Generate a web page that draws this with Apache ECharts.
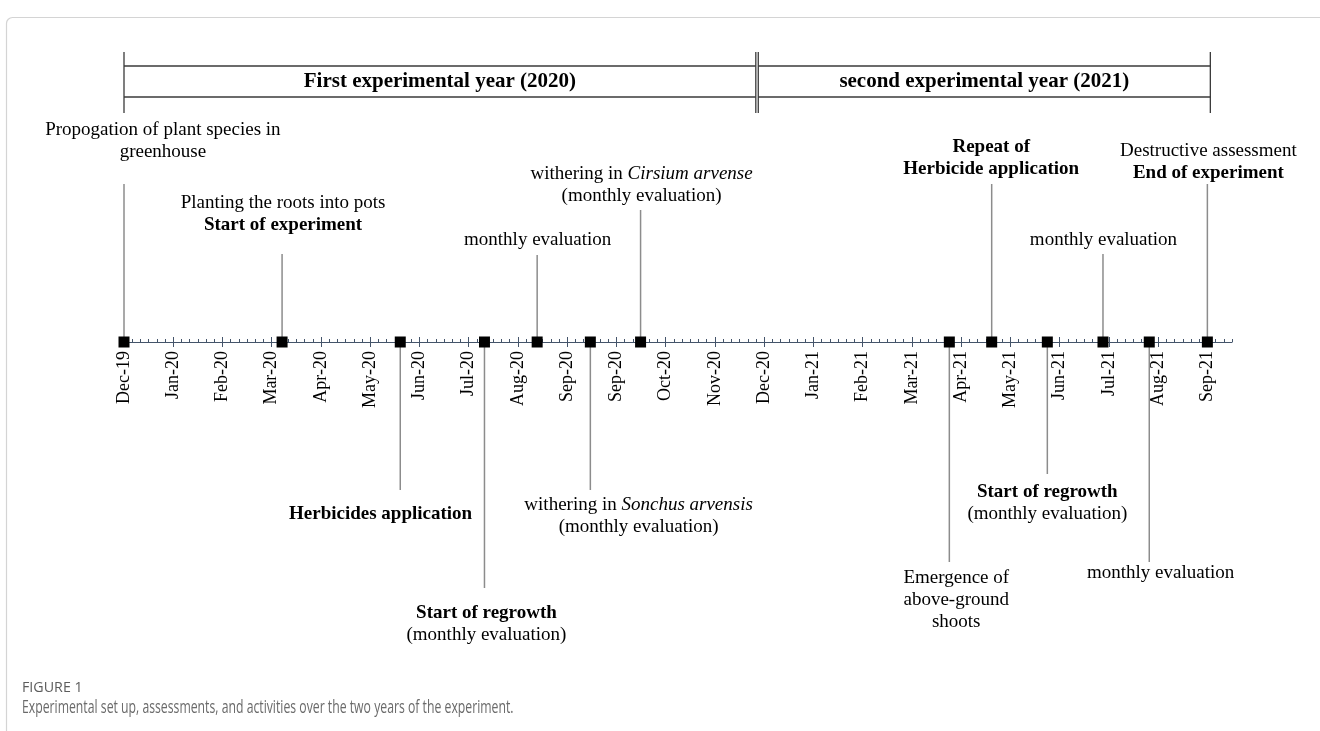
<!DOCTYPE html>
<html>
<head>
<meta charset="utf-8">
<script src="https://cdn.jsdelivr.net/npm/echarts@6/dist/echarts.min.js"></script>
<style>html,body{margin:0;padding:0;background:#fff}#c{width:1320px;height:731px}</style>
</head>
<body>
<div id="c"></div>
<script>
// ---- data ----
const monthLabels = ['Dec-19','Jan-20','Feb-20','Mar-20','Apr-20','May-20','Jun-20','Jul-20','Aug-20','Sep-20','Sep-20','Oct-20','Nov-20','Dec-20','Jan-21','Feb-21','Mar-21','Apr-21','May-21','Jun-21','Jul-21','Aug-21','Sep-21'];
const eventMonth = [0, 3.21, 5.61, 7.32, 8.39, 9.47, 10.49, 16.76, 17.62, 18.75, 19.88, 20.82, 22.0];
const leaderEnd  = [158, 88, -148, -246, 87, -148, 132, -220, 158, -132, 88, -220, 158];
const labelMonth = [0.79, 3.23, 5.21, 7.36, 8.40, 10.45, 10.51, 16.90, 17.61, 18.75, 19.89, 21.05, 22.02];
const labelLevel = [201, 128, -172, -282, 102, -174, 157, -258, 184, -161, 102, -231, 180];
const eventText = [
  '{n|Propogation of plant species in}\n{n|greenhouse}',
  '{n|Planting the roots into pots}\n{b|Start of experiment}',
  '{b|Herbicides application}',
  '{b|Start of regrowth}\n{n|(monthly evaluation)}',
  '{n|monthly evaluation}',
  '{n|withering in }{i|Sonchus arvensis}\n{n|(monthly evaluation)}',
  '{n|withering in }{i|Cirsium arvense}\n{n|(monthly evaluation)}',
  '{n|Emergence of}\n{n|above-ground}\n{n|shoots}',
  '{b|Repeat of}\n{b|Herbicide application}',
  '{b|Start of regrowth}\n{n|(monthly evaluation)}',
  '{n|monthly evaluation}',
  '{n|monthly evaluation}',
  '{n|Destructive assessment}\n{b|End of experiment}'
];
const yearNames = ['First experimental year (2020)', 'second experimental year (2021)'];
const yearStart = [0, 12.88];
const yearEnd   = [12.83, 22.06];
const captionLabel = 'FIGURE 1';
const captionText = 'Experimental set up, assessments, and activities over the two years of the experiment.';

// ---- chart ----
const SERIF = '"Liberation Serif", "Times New Roman", serif';
const SANS = '"Open Sans", "Noto Sans", sans-serif';
const AXIS_COLOR = '#44546a';
const FS = 19;
const richStyles = {
  n: {fontFamily: SERIF, fontSize: FS, lineHeight: 22, color: '#000'},
  b: {fontFamily: SERIF, fontSize: FS, lineHeight: 22, fontWeight: 'bold', color: '#000'},
  i: {fontFamily: SERIF, fontSize: FS, lineHeight: 22, fontStyle: 'italic', color: '#000'}
};
const majorValues = monthLabels.map((_, i) => i);
const MAXM = 22.5;

const chart = echarts.init(document.getElementById('c'), null, {renderer: 'canvas'});
chart.setOption({
  animation: false,
  backgroundColor: '#fff',
  graphic: [
    {
      type: 'rect', left: 4, top: 15, silent: true,
      shape: {width: 1400, height: 800, r: 6},
      style: {fill: 'none', stroke: '#d4d4d4', lineWidth: 1.2}
    },
    {
      type: 'text', left: 22, top: 680, silent: true, scaleX: 0.95,
      style: {text: captionLabel, font: '15px ' + SANS, fill: '#5c5c5c'}
    },
    {
      type: 'text', left: 22, top: 699, silent: true, scaleX: 0.68,
      style: {text: captionText, font: '18px ' + SANS, fill: '#6a6a6a'}
    }
  ],
  grid: {left: 124, right: 88, top: 42, bottom: 389},
  yAxis: {type: 'value', min: 0, max: 300, show: false},
  xAxis: [
    {
      type: 'value', min: 0, max: MAXM, interval: 1, position: 'bottom',
      axisLine: {show: true, onZero: false, lineStyle: {color: AXIS_COLOR, width: 1.2}},
      axisTick: {show: true, inside: false, length: 5, customValues: majorValues, lineStyle: {color: AXIS_COLOR}},
      axisLabel: {
        show: true, rotate: 90, margin: 9, customValues: majorValues,
        fontFamily: SERIF, fontSize: 18, color: '#000',
        formatter: v => monthLabels[Math.round(v)] || ''
      },
      splitLine: {show: false}
    },
    {
      type: 'value', min: 0, max: MAXM, interval: 1, position: 'bottom',
      axisLine: {show: false, onZero: false},
      axisTick: {show: true, inside: true, length: 5, customValues: majorValues, lineStyle: {color: AXIS_COLOR}},
      axisLabel: {show: false},
      splitLine: {show: false}
    },
    {
      type: 'value', min: 0, max: MAXM * 6, interval: 1, position: 'bottom',
      axisLine: {show: false, onZero: false},
      axisTick: {show: true, inside: true, length: 3, lineStyle: {color: AXIS_COLOR}},
      axisLabel: {show: false},
      splitLine: {show: false}
    }
  ],
  series: [
    {
      type: 'custom', name: 'years', xAxisIndex: 0, yAxisIndex: 0, clip: false, silent: true,
      data: yearStart.map((s, i) => [s, yearEnd[i], i]),
      renderItem: function (params, api) {
        const i = params.dataIndex;
        const s = api.value(0), e = api.value(1);
        const a = api.coord([s, 290]), b = api.coord([s, 229]);
        const c = api.coord([e, 290]), d = api.coord([e, 229]);
        const h1 = api.coord([s, 276])[1], h2 = api.coord([s, 245])[1];
        const mid = api.coord([(s + e) / 2, 260.5]);
        const ls = {stroke: '#3a3a3a', lineWidth: 1.3};
        return {type: 'group', children: [
          {type: 'line', shape: {x1: a[0], y1: a[1], x2: b[0], y2: b[1]}, style: ls},
          {type: 'line', shape: {x1: c[0], y1: c[1], x2: d[0], y2: d[1]}, style: ls},
          {type: 'line', shape: {x1: a[0], y1: h1, x2: c[0], y2: h1}, style: ls},
          {type: 'line', shape: {x1: a[0], y1: h2, x2: c[0], y2: h2}, style: ls},
          {type: 'text', x: mid[0], y: mid[1], style: {
            text: yearNames[i], align: 'center', verticalAlign: 'middle',
            font: 'bold 21px ' + SERIF, fill: '#000'
          }}
        ]};
      }
    },
    {
      type: 'custom', name: 'events', xAxisIndex: 0, yAxisIndex: 0, clip: false, silent: true, z: 2,
      data: eventMonth.map((m, i) => [m, leaderEnd[i], labelMonth[i], labelLevel[i]]),
      renderItem: function (params, api) {
        const i = params.dataIndex;
        const p0 = api.coord([api.value(0), 0]);
        const p1 = api.coord([api.value(0), api.value(1)]);
        const pl = api.coord([api.value(2), api.value(3)]);
        return {type: 'group', children: [
          {type: 'line', shape: {x1: p0[0], y1: p0[1], x2: p1[0], y2: p1[1]}, style: {stroke: '#8c8c8c', lineWidth: 1.5}},
          {type: 'text', x: pl[0], y: pl[1], style: {
            text: eventText[i], rich: richStyles, align: 'center', verticalAlign: 'middle',
            font: FS + 'px ' + SERIF, fill: '#000'
          }}
        ]};
      }
    },
    {
      type: 'scatter', name: 'markers', xAxisIndex: 0, yAxisIndex: 0, z: 5, clip: false,
      symbol: 'rect', symbolSize: 11,
      itemStyle: {color: '#000', opacity: 1},
      data: eventMonth.map(m => [m, 0])
    }
  ]
});
</script>
</body>
</html>
